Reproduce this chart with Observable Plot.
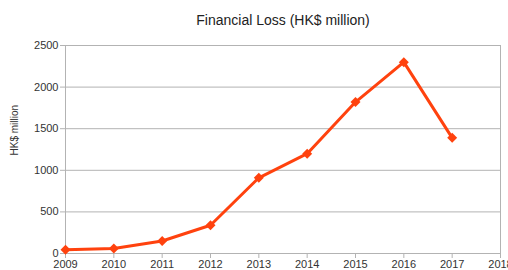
<!DOCTYPE html>
<html>
<head>
<meta charset="utf-8">
<script src="https://cdn.jsdelivr.net/npm/d3@7"></script>
<script src="https://cdn.jsdelivr.net/npm/@observablehq/plot@0.6"></script>
<style>
  html, body { margin: 0; padding: 0; background: #fff; }
  svg { display: block; }
</style>
</head>
<body>
<div id="chart"></div>
<script>
const title = "Financial Loss (HK$ million)";
const yLabel = "HK$ million";
const years = [2009, 2010, 2011, 2012, 2013, 2014, 2015, 2016, 2017];
const losses = [45, 60, 150, 340, 910, 1200, 1820, 2300, 1390];
const xTicks = [2009, 2010, 2011, 2012, 2013, 2014, 2015, 2016, 2017, 2018];
const yTicks = [0, 500, 1000, 1500, 2000, 2500];

const data = years.map((y, i) => ({year: y, loss: losses[i]}));
const color = "#ff420e";
const grid = "#b3b3b3";
const font = "Liberation Sans, Arial, sans-serif";

const chart = Plot.plot({
  width: 508,
  height: 270,
  marginLeft: 65,
  marginRight: 8,
  marginTop: 45,
  marginBottom: 17,
  style: {fontFamily: font, fontSize: "11px", color: "#333", background: "#fff"},
  x: {domain: [2009, 2018]},
  y: {domain: [0, 2500]},
  marks: [
    Plot.gridY(yTicks, {stroke: grid, strokeOpacity: 1}),
    Plot.ruleX([2009, 2018], {stroke: grid, strokeOpacity: 1}),
    Plot.axisY(yTicks, {tickSize: 5, tickPadding: 2, stroke: grid, label: null, tickFormat: d3.format("d"), fontSize: 11}),
    Plot.axisX(xTicks, {tickSize: 5, tickPadding: 2, stroke: grid, label: null, tickFormat: d3.format("d"), fontSize: 11}),
    Plot.line(data, {x: "year", y: "loss", stroke: color, strokeWidth: 3}),
    Plot.dot(data, {x: "year", y: "loss", symbol: "diamond2", r: 4.5, fill: color, stroke: "none"}),
    Plot.text([title], {frameAnchor: "top", dy: -30, text: d => d, fontSize: 14, fill: "#222"}),
    Plot.text([yLabel], {frameAnchor: "left", dx: -51, dy: 6, rotate: -90, text: d => d, fontSize: 10, fill: "#333"})
  ]
});
document.getElementById("chart").append(chart);
</script>
</body>
</html>
